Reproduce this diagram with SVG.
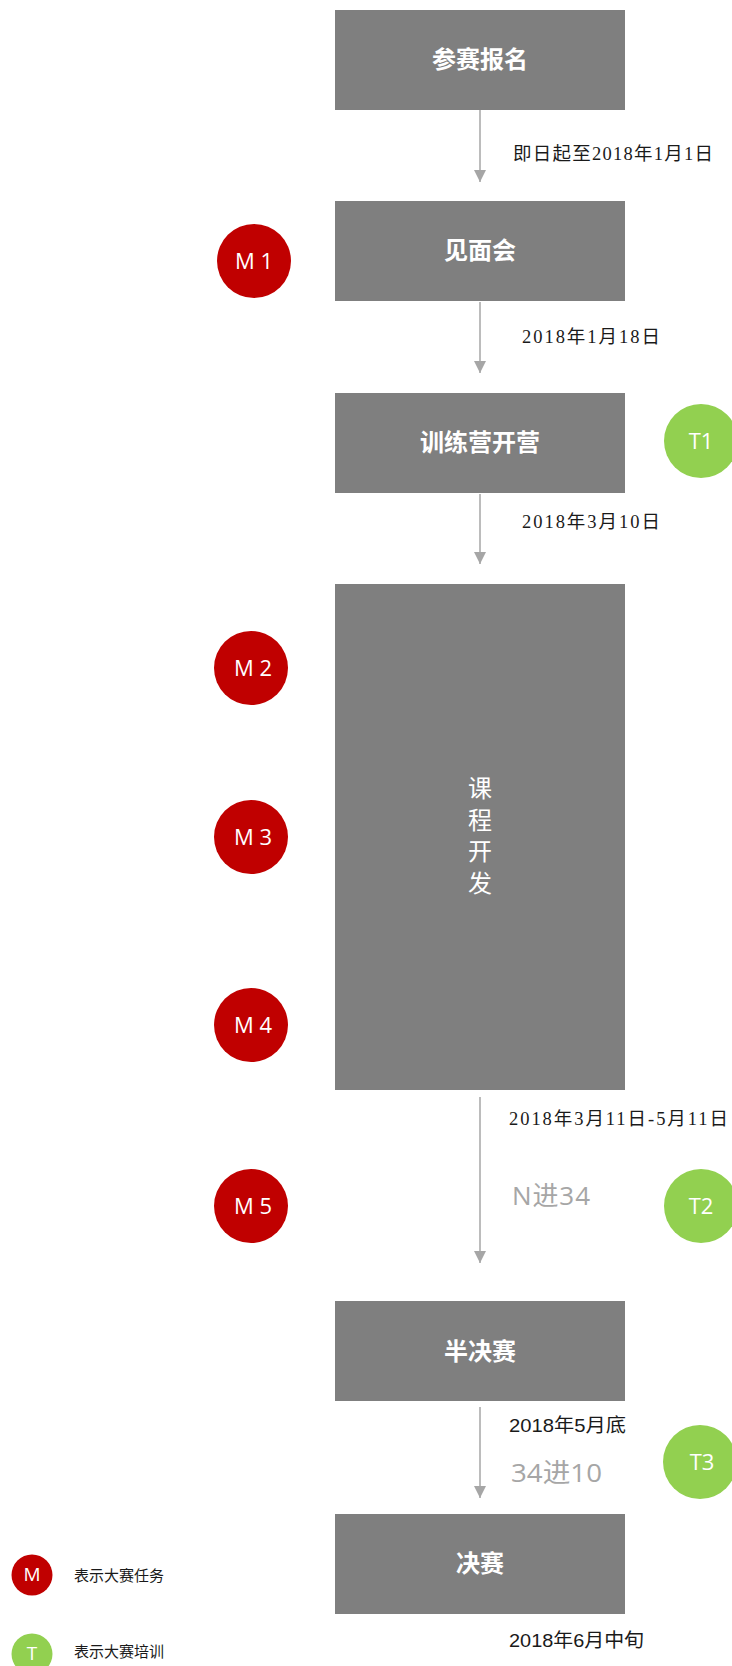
<svg xmlns="http://www.w3.org/2000/svg" width="732" height="1666" viewBox="0 0 732 1666">
<style>
.box{fill:#7f7f7f;}
.title{fill:#ffffff;font-family:"Noto Sans CJK SC",sans-serif;font-size:24px;font-weight:bold;text-anchor:middle;dominant-baseline:central;}
.vert{fill:#ffffff;font-family:"Noto Sans CJK SC",sans-serif;font-size:24px;writing-mode:vertical-rl;letter-spacing:7.5px;}
.red{fill:#c00000;}
.green{fill:#92d050;}
.clab{fill:#ffffff;font-family:"Open Sans","Noto Sans",sans-serif;font-size:22px;text-anchor:middle;}
.date{fill:#1a1a1a;font-family:"Liberation Serif","Noto Sans CJK SC",serif;font-size:18.5px;}
.date2{fill:#1a1a1a;font-family:"Liberation Sans","Noto Sans CJK SC",sans-serif;font-size:19px;}
.adv{fill:#a6a6a6;font-family:"Open Sans","Noto Sans CJK SC",sans-serif;font-size:26px;}
.leg{fill:#1a1a1a;font-family:"Noto Sans CJK SC",serif;font-size:15px;}
.conn{stroke:#a6a6a6;stroke-width:1.5;fill:none;marker-end:url(#arr);}
</style>
<defs>
<marker id="arr" markerUnits="userSpaceOnUse" markerWidth="12" markerHeight="12" refX="12" refY="6" orient="auto">
<path d="M0,0 L12,6 L0,12 z" fill="#a6a6a6"/>
</marker>
</defs>
<rect x="0" y="0" width="732" height="1666" fill="#ffffff"/>

<g id="connectors">
<line class="conn" x1="480" y1="110" x2="480" y2="182"/>
<line class="conn" x1="480" y1="302" x2="480" y2="373"/>
<line class="conn" x1="480" y1="494" x2="480" y2="564"/>
<line class="conn" x1="480" y1="1097" x2="480" y2="1263"/>
<line class="conn" x1="480" y1="1407" x2="480" y2="1498"/>
</g>

<g id="node-baoming">
<rect class="box" x="335" y="10" width="290" height="100"/>
<text class="title" x="480" y="57">参赛报名</text>
</g>
<g id="node-jianmianhui">
<rect class="box" x="335" y="201" width="290" height="100"/>
<text class="title" x="480" y="248">见面会</text>
</g>
<g id="node-xunlianying">
<rect class="box" x="335" y="393" width="290" height="100"/>
<text class="title" x="480" y="440">训练营开营</text>
</g>
<g id="node-kecheng">
<rect class="box" x="335" y="584" width="290" height="506"/>
<text class="vert" x="480" y="776">课程开发</text>
</g>
<g id="node-banjuesai">
<rect class="box" x="335" y="1301" width="290" height="100"/>
<text class="title" x="480" y="1349">半决赛</text>
</g>
<g id="node-juesai">
<rect class="box" x="335" y="1514" width="290" height="100"/>
<text class="title" x="480" y="1561">决赛</text>
</g>

<g id="labels">
<text class="date" x="513" y="160" textLength="200">即日起至2018年1月1日</text>
<text class="date" x="522" y="343" textLength="138">2018年1月18日</text>
<text class="date" x="522" y="528" textLength="138">2018年3月10日</text>
<text class="date" x="509" y="1125" textLength="219">2018年3月11日-5月11日</text>
<text class="adv" x="512" y="1205" textLength="78">N进34</text>
<text class="date2" x="509" y="1432" textLength="117" lengthAdjust="spacingAndGlyphs">2018年5月底</text>
<text class="adv" x="511" y="1482" textLength="91" lengthAdjust="spacingAndGlyphs">34进10</text>
<text class="date2" x="509" y="1647" textLength="135" lengthAdjust="spacingAndGlyphs">2018年6月中旬</text>
</g>

<g id="node-M1"><circle class="red" cx="254" cy="261" r="37"/><text class="clab" x="254" y="269">M 1</text></g>
<g id="node-M2"><circle class="red" cx="251" cy="668" r="37"/><text class="clab" x="253" y="676">M 2</text></g>
<g id="node-M3"><circle class="red" cx="251" cy="837" r="37"/><text class="clab" x="253" y="845">M 3</text></g>
<g id="node-M4"><circle class="red" cx="251" cy="1025" r="37"/><text class="clab" x="253" y="1033">M 4</text></g>
<g id="node-M5"><circle class="red" cx="251" cy="1206" r="37"/><text class="clab" x="253" y="1214">M 5</text></g>
<g id="node-T1"><circle class="green" cx="701" cy="441" r="37"/><text class="clab" x="701" y="449">T1</text></g>
<g id="node-T2"><circle class="green" cx="701" cy="1206" r="37"/><text class="clab" x="701" y="1214">T2</text></g>
<g id="node-T3"><circle class="green" cx="700" cy="1462" r="37"/><text class="clab" x="702" y="1470">T3</text></g>

<g id="legend">
<g id="legend-M"><circle class="red" cx="32" cy="1575" r="20.5"/><text class="clab" x="32" y="1581" style="font-size:19px">M</text>
<text class="leg" x="74" y="1581" textLength="90" lengthAdjust="spacingAndGlyphs">表示大赛任务</text></g>
<g id="legend-T"><circle class="green" cx="32" cy="1654" r="20.5"/><text class="clab" x="32" y="1660" style="font-size:19px">T</text>
<text class="leg" x="74" y="1657" textLength="90" lengthAdjust="spacingAndGlyphs">表示大赛培训</text></g>
</g>
</svg>
